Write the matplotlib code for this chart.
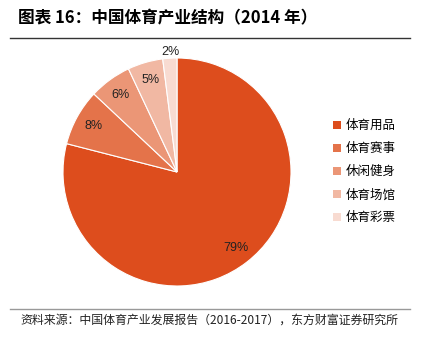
import matplotlib.pyplot as plt
from matplotlib.patches import Patch
from matplotlib.lines import Line2D

plt.rcParams['font.family'] = ['Noto Sans CJK SC', 'DejaVu Sans']

categorias = ['体育用品', '体育赛事', '休闲健身', '体育场馆', '体育彩票']
valores = [79, 8, 6, 5, 2]
cores = ['#DD4D1D', '#E4734A', '#EB9676', '#F1B8A3', '#F8DBD1']

titulo = '图表 16：中国体育产业结构（2014 年）'
fonte = '资料来源：中国体育产业发展报告（2016-2017），东方财富证券研究所'

W, H = 422, 344
fig = plt.figure(figsize=(W / 100, H / 100), dpi=100)

# pizza centrada em (177, 172) px, raio 114 px
cx, cy, r = 177, 172, 114
ax = fig.add_axes([(cx - r) / W, (H - cy - r) / H, 2 * r / W, 2 * r / H])
fatias, textos, pcts = ax.pie(valores, colors=cores, startangle=90, counterclock=False,
                              autopct='%d%%', pctdistance=0.84, radius=1,
                              wedgeprops=dict(edgecolor='white', linewidth=0.8),
                              textprops=dict(fontsize=9, color='#222222', family='Liberation Sans'))
# rótulo da menor fatia fica fora
pcts[-1].set_position((-0.06, 1.05))
ax.set_xlim(-1, 1)
ax.set_ylim(-1, 1)
ax.set_aspect('equal')
ax.axis('off')

# título e linhas
fig.text(18 / W, 1 - 18 / H, titulo, fontsize=12, fontweight='bold', va='center', ha='left')
fig.add_artist(Line2D([10 / W, 410 / W], [1 - 38 / H, 1 - 38 / H], color='#333333', lw=1))
fig.add_artist(Line2D([10 / W, 410 / W], [1 - 309 / H, 1 - 309 / H], color='#999999', lw=1))
fig.text(20 / W, 1 - 320 / H, fonte, fontsize=8.6, va='center', ha='left', color='#222222')

handles = [Patch(facecolor=c, edgecolor='none') for c in cores]
fig.legend(handles, categorias, loc='upper left', bbox_to_anchor=(322 / W, 1 - 108 / H),
           frameon=False, fontsize=9, handlelength=0.6, handleheight=0.6,
           handletextpad=0.4, labelspacing=0.8)

plt.savefig('out.png', dpi=100)
